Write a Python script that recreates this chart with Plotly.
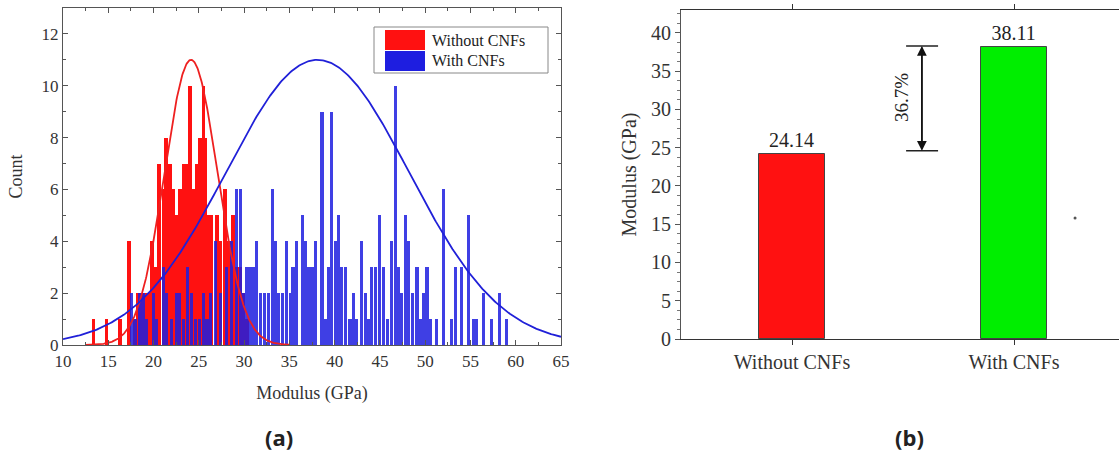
import numpy as np
import plotly.graph_objects as go

# ---------------- data: panel (a) histogram ----------------
red_x = [13.35, 14.8, 16.3, 17.3, 17.9, 18.3, 18.7, 19.06, 19.4, 19.8, 20.2, 20.6, 21.1, 21.4,
         21.8, 22.2, 22.6, 22.9, 23.3, 23.7, 24.0, 24.4, 24.8, 25.1, 25.5, 25.75, 26.05, 26.4,
         27.0, 27.35, 27.9, 28.3, 28.8, 29.2, 29.6, 29.9, 30.3]
red_counts = [1, 1, 1, 4, 1, 2, 2, 2, 2, 4, 3, 7, 6, 8,
              7, 6, 5, 6, 7, 7, 10, 6, 7, 8, 10, 8, 5, 5,
              5, 4, 6, 4, 5, 3, 3, 2, 1]

blue_x = [17.6, 17.95, 18.5, 18.9, 19.25, 20.0, 20.35, 21.1, 21.45, 22.0, 22.55, 22.9, 23.3,
          23.8, 24.2, 24.6, 25.1, 25.5, 25.9, 26.25, 26.8, 27.35, 28.1, 28.6, 29.2, 29.6, 29.9,
          30.3, 30.65, 31.0, 31.4, 31.8, 32.3, 32.7, 33.17, 33.5, 33.85, 34.2, 34.7, 35.1, 35.4,
          35.8, 36.4, 36.75, 37.1, 37.5, 37.85, 38.6, 38.95, 39.3, 39.7, 40.05, 40.4, 40.8,
          41.25, 41.7, 42.1, 42.45, 43.0, 43.4, 43.75, 44.1, 44.5, 45.0, 45.4, 45.8, 46.3, 46.7,
          47.05, 47.4, 47.8, 48.2, 48.55, 49.1, 49.45, 49.8, 50.2, 50.55, 51.3, 52.0, 52.9, 53.3,
          54.05, 54.8, 55.3, 55.7, 56.4, 57.3, 58.2, 59.0]
blue_counts = [2, 1, 2, 2, 1, 2, 1, 3, 2, 1, 2, 2, 1,
               3, 2, 1, 1, 2, 1, 2, 4, 2, 3, 4, 6, 6, 2,
               3, 3, 3, 4, 2, 2, 2, 6, 4, 2, 2, 4, 2, 3,
               4, 5, 4, 3, 3, 4, 9, 1, 3, 9, 4, 5, 3,
               3, 1, 2, 1, 4, 2, 1, 3, 3, 5, 3, 1, 4, 10,
               3, 2, 5, 4, 2, 3, 1, 2, 3, 1, 1, 6, 1, 3,
               3, 5, 1, 1, 2, 1, 2, 1]

# Gaussian fit parameters (mean, std, peak height, drawn x-span)
red_fit = {"mean": 24.14, "sd": 2.92, "peak": 11.0, "span": (12.5, 35.0)}
blue_fit = {"mean": 38.11, "sd": 10.1, "peak": 11.0, "span": (10.0, 65.0)}

hist_legend = ["Without CNFs", "With CNFs"]

# ---------------- data: panel (b) bars ----------------
groups = ["Without CNFs", "With CNFs"]
modulus = [24.14, 38.11]
increase_label = "36.7%"

# ---------------- styling ----------------
W, H = 1119, 455
RED = "#ff1111"
BLUE = "#1e1ee0"
GREEN = "#00ee00"
SERIF = "Liberation Serif, Times New Roman, serif"
TXT = "#333333"


def px_x(p):
    return p / W


def px_y(p):
    return 1 - p / H


fig = go.Figure()

fig.add_trace(go.Bar(x=red_x, y=red_counts, width=0.4, marker=dict(color=RED, line=dict(width=0)),
                     xaxis="x", yaxis="y", showlegend=False))
fig.add_trace(go.Bar(x=blue_x, y=blue_counts, width=0.34, marker=dict(color=BLUE, line=dict(width=0)),
                     opacity=0.85, xaxis="x", yaxis="y", showlegend=False))

for fit, col in ((red_fit, "#ee2020"), (blue_fit, "#2020d8")):
    xs = np.linspace(fit["span"][0], fit["span"][1], 400)
    ys = fit["peak"] * np.exp(-0.5 * ((xs - fit["mean"]) / fit["sd"]) ** 2)
    fig.add_trace(go.Scatter(x=xs, y=ys, mode="lines", line=dict(color=col, width=1.8),
                             xaxis="x", yaxis="y", showlegend=False, cliponaxis=True))

# panel (b)
fig.add_trace(go.Bar(x=[0, 1], y=modulus, width=0.3,
                     marker=dict(color=[RED, GREEN], line=dict(color="#444444", width=1)),
                     text=[f"{v:.2f}" for v in modulus], textposition="outside",
                     textfont=dict(family=SERIF, size=20, color="#222222"),
                     cliponaxis=False, xaxis="x2", yaxis="y2", showlegend=False))
# stray dot in the original
fig.add_trace(go.Scatter(x=[1.275], y=[15.8], mode="markers", marker=dict(size=3, color="#555555"),
                         xaxis="x2", yaxis="y2", showlegend=False))

axis_common = dict(showline=True, linecolor="#555555", linewidth=1.2, showgrid=False, zeroline=False,
                   automargin=False)
font_a = dict(family=SERIF, size=17, color=TXT)
font_b = dict(family=SERIF, size=20, color=TXT)

fig.update_layout(
    template="none",
    width=W, height=H, margin=dict(l=0, r=0, t=0, b=0, autoexpand=False),
    paper_bgcolor="white", plot_bgcolor="white",
    barmode="overlay", bargap=0, hovermode=False,
    xaxis=dict(domain=[px_x(63), px_x(561)], range=[10, 65], dtick=5, tick0=10,
               ticks="inside", ticklen=5, tickcolor="#555555", mirror="ticks", tickfont=font_a,
               minor=dict(ticks="inside", ticklen=3, dtick=2.5, tickcolor="#555555"),
               title=dict(text="Modulus (GPa)", font=dict(family=SERIF, size=18, color=TXT), standoff=16),
               anchor="y", **axis_common),
    yaxis=dict(domain=[px_y(345), px_y(8)], range=[0, 13], dtick=2, tick0=0,
               ticks="inside", ticklen=5, tickcolor="#555555", mirror="ticks", tickfont=font_a,
               minor=dict(ticks="inside", ticklen=3, dtick=1, tickcolor="#555555"),
               title=dict(text="Count", font=dict(family=SERIF, size=18, color=TXT), standoff=14),
               anchor="x", **axis_common),
    xaxis2=dict(domain=[px_x(681), 1.0], range=[-0.5, 1.473], tickvals=[0, 1], ticktext=groups,
                ticks="outside", ticklen=5, tickcolor="#333333", mirror="ticks", tickfont=font_b,
                anchor="y2", **{**axis_common, "linecolor": "#333333"}),
    yaxis2=dict(domain=[px_y(339), px_y(10)], range=[0, 43], dtick=5, tick0=0,
                ticks="outside", ticklen=5, tickcolor="#555555", tickfont=font_b,
                minor=dict(ticks="outside", ticklen=3, dtick=1.25, tickcolor="#777777"),
                title=dict(text="Modulus (GPa)", font=dict(family=SERIF, size=20, color=TXT), standoff=8),
                anchor="x2", **axis_common),
)

# legend for panel (a), drawn by hand to mimic the original box
shapes = [
    dict(type="rect", xref="paper", yref="paper", x0=px_x(374), x1=px_x(548), y0=px_y(73), y1=px_y(27),
         line=dict(color="#888888", width=1), fillcolor="white", layer="above"),
    dict(type="rect", xref="paper", yref="paper", x0=px_x(385), x1=px_x(425), y0=px_y(50), y1=px_y(30),
         line=dict(width=0), fillcolor=RED, layer="above"),
    dict(type="rect", xref="paper", yref="paper", x0=px_x(385), x1=px_x(425), y0=px_y(71), y1=px_y(51),
         line=dict(width=0), fillcolor=BLUE, layer="above"),
]
# double-headed arrow in panel (b)
arrow_top, arrow_bot = 38.3, 24.6
for yv in (arrow_top, arrow_bot):
    shapes.append(dict(type="line", xref="x2", yref="y2", x0=0.514, x1=0.658, y0=yv, y1=yv,
                       line=dict(color="#222222", width=1.5)))
fig.update_layout(shapes=shapes)

annotations = [
    dict(xref="paper", yref="paper", x=px_x(430), y=px_y(40), text=hist_legend[0], showarrow=False,
         xanchor="left", yanchor="middle", font=dict(family=SERIF, size=16, color="#222222")),
    dict(xref="paper", yref="paper", x=px_x(430), y=px_y(61), text=hist_legend[1], showarrow=False,
         xanchor="left", yanchor="middle", font=dict(family=SERIF, size=16, color="#222222")),
    dict(xref="paper", yref="paper", x=px_x(279), y=px_y(437), text="<b>(a)</b>", showarrow=False,
         xanchor="center", yanchor="middle",
         font=dict(family="Open Sans, Arial, sans-serif", size=22, color="#222222")),
    dict(xref="paper", yref="paper", x=px_x(909), y=px_y(437), text="<b>(b)</b>", showarrow=False,
         xanchor="center", yanchor="middle",
         font=dict(family="Open Sans, Arial, sans-serif", size=22, color="#222222")),
    dict(xref="x2", yref="y2", x=0.585, y=arrow_top, ax=0.585, ay=arrow_bot, axref="x2", ayref="y2",
         showarrow=True, arrowhead=2, arrowsize=1.3, arrowwidth=1.5, arrowcolor="#111111", text=""),
    dict(xref="x2", yref="y2", x=0.585, y=arrow_bot, ax=0.585, ay=arrow_top, axref="x2", ayref="y2",
         showarrow=True, arrowhead=2, arrowsize=1.3, arrowwidth=1.5, arrowcolor="#111111", text=""),
    dict(xref="x2", yref="y2", x=0.49, y=31.6, text=increase_label, showarrow=False, textangle=-90,
         font=dict(family=SERIF, size=19, color="#222222")),
]
fig.update_layout(annotations=annotations)

fig.write_html("out.html", config={"displayModeBar": False},
               post_script=["document.body.style.margin='0px';"])
